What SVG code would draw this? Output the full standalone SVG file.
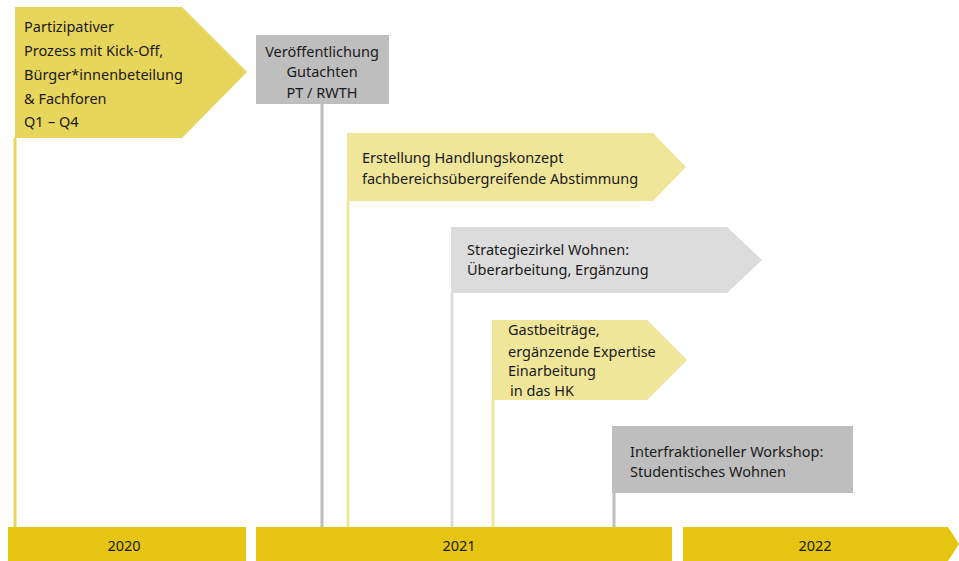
<svg xmlns="http://www.w3.org/2000/svg" width="959" height="561" viewBox="0 0 959 561">
  <style>
    text { font-family: "Noto Sans", "Open Sans", sans-serif; font-size: 14.5px; fill: #1a1a1a; }
    .mid { text-anchor: middle; }
    .y1 { fill: #E8D55B; }
    .y2 { fill: #F0E69A; }
    .g1 { fill: #BEBEBE; }
    .g2 { fill: #DCDCDC; }
    .bar { fill: #E5C512; }
    .ln { stroke-width: 3; fill: none; }
  </style>
  <rect width="959" height="561" fill="#ffffff"/>
  <g id="connectors">
    <line class="ln" x1="15" y1="138" x2="15" y2="527" stroke="#E8D55B" stroke-width="2"/>
    <line class="ln" x1="322" y1="104" x2="322" y2="527" stroke="#BEBEBE"/>
    <line class="ln" x1="348" y1="201" x2="348" y2="527" stroke="#F0E69A"/>
    <line class="ln" x1="452" y1="293" x2="452" y2="527" stroke="#DCDCDC"/>
    <line class="ln" x1="493" y1="400" x2="493" y2="527" stroke="#F0E69A"/>
    <line class="ln" x1="614" y1="493" x2="614" y2="527" stroke="#BEBEBE"/>
  </g>
  <g id="timeline">
    <g id="year2020">
      <rect class="bar" x="8" y="527" width="238" height="34"/>
      <text class="mid" x="124" y="551">2020</text>
    </g>
    <g id="year2021">
      <rect class="bar" x="256" y="527" width="416" height="34"/>
      <text class="mid" x="459" y="551">2021</text>
    </g>
    <g id="year2022">
      <polygon class="bar" points="683,527 948,527 959,544 948,561 683,561"/>
      <text class="mid" x="815" y="551">2022</text>
    </g>
  </g>
  <g id="node-partizipation">
    <polygon class="y1" points="15,7 182,7 247,72 182,138 15,138"/>
    <text x="24" y="32">Partizipativer</text>
    <text x="24" y="56">Prozess mit Kick-Off,</text>
    <text x="24" y="80">Bürger*innenbeteilung</text>
    <text x="24" y="104">&amp; Fachforen</text>
    <text x="24" y="127">Q1<tspan x="48">– Q4</tspan></text>
  </g>
  <g id="node-gutachten">
    <rect class="g1" x="256" y="35" width="133" height="69"/>
    <text class="mid" x="322" y="57">Veröffentlichung</text>
    <text class="mid" x="322" y="77">Gutachten</text>
    <text class="mid" x="322" y="98">PT / RWTH</text>
  </g>
  <g id="node-handlungskonzept">
    <polygon class="y2" points="347,133 653,133 686,167 653,201 347,201"/>
    <text x="362" y="163">Erstellung Handlungskonzept</text>
    <text x="362" y="184">fachbereichsübergreifende Abstimmung</text>
  </g>
  <g id="node-strategiezirkel">
    <polygon class="g2" points="451,227 727,227 762,260 727,293 451,293"/>
    <text x="467" y="255">Strategiezirkel Wohnen:</text>
    <text x="467" y="275">Überarbeitung, Ergänzung</text>
  </g>
  <g id="node-gastbeitraege">
    <polygon class="y2" points="492,320 647,320 687,360 647,400 492,400"/>
    <text x="508" y="335">Gastbeiträge,</text>
    <text x="508" y="357">ergänzende Expertise</text>
    <text x="508" y="376">Einarbeitung</text>
    <text x="510" y="396">in das HK</text>
  </g>
  <g id="node-workshop">
    <rect class="g1" x="612" y="426" width="241" height="67"/>
    <text x="630" y="457">Interfraktioneller Workshop:</text>
    <text x="630" y="477">Studentisches Wohnen</text>
  </g>
</svg>
